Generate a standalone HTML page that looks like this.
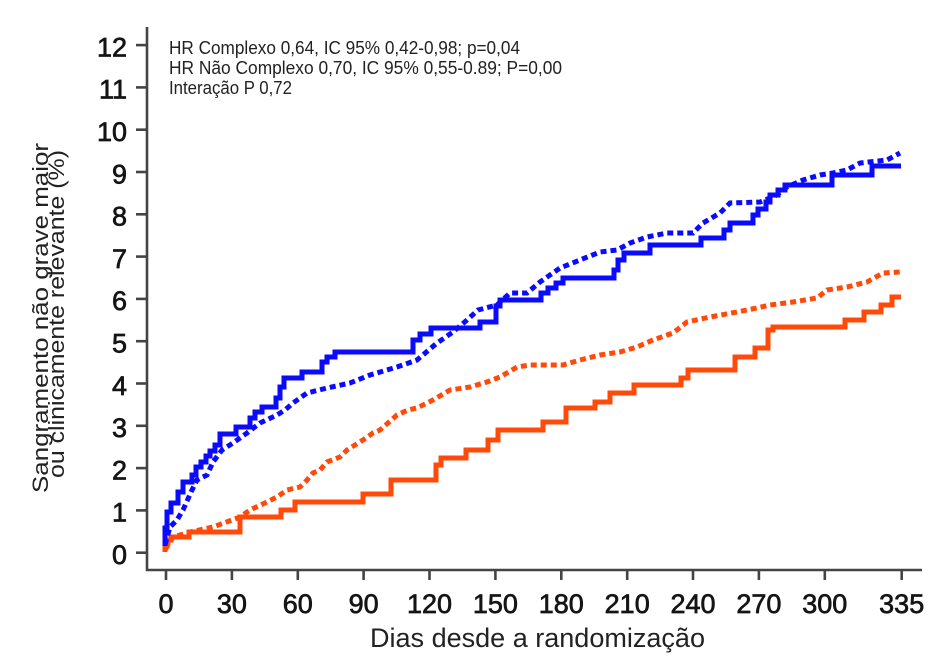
<!DOCTYPE html>
<html>
<head>
<meta charset="utf-8">
<style>
  html, body { margin: 0; padding: 0; background: #ffffff; }
  svg { display: block; }
</style>
</head>
<body>
<svg width="940" height="666" viewBox="0 0 940 666" xmlns="http://www.w3.org/2000/svg">
  <rect width="940" height="666" fill="#ffffff"/>

  <!-- Axes -->
  <g stroke="#444" stroke-width="2.6" fill="none">
    <line x1="147" y1="27" x2="147" y2="571"/>
    <line x1="146" y1="570" x2="922" y2="570"/>
    <!-- y ticks -->
    <line x1="136" y1="552.7" x2="147" y2="552.7"/>
    <line x1="136" y1="510.4" x2="147" y2="510.4"/>
    <line x1="136" y1="468.1" x2="147" y2="468.1"/>
    <line x1="136" y1="425.8" x2="147" y2="425.8"/>
    <line x1="136" y1="383.5" x2="147" y2="383.5"/>
    <line x1="136" y1="341.2" x2="147" y2="341.2"/>
    <line x1="136" y1="298.9" x2="147" y2="298.9"/>
    <line x1="136" y1="256.6" x2="147" y2="256.6"/>
    <line x1="136" y1="214.3" x2="147" y2="214.3"/>
    <line x1="136" y1="172.0" x2="147" y2="172.0"/>
    <line x1="136" y1="129.7" x2="147" y2="129.7"/>
    <line x1="136" y1="87.4" x2="147" y2="87.4"/>
    <line x1="136" y1="45.1" x2="147" y2="45.1"/>
    <!-- x ticks -->
    <line x1="166" y1="570" x2="166" y2="580"/>
    <line x1="231.9" y1="570" x2="231.9" y2="580"/>
    <line x1="297.8" y1="570" x2="297.8" y2="580"/>
    <line x1="363.6" y1="570" x2="363.6" y2="580"/>
    <line x1="429.5" y1="570" x2="429.5" y2="580"/>
    <line x1="495.4" y1="570" x2="495.4" y2="580"/>
    <line x1="561.3" y1="570" x2="561.3" y2="580"/>
    <line x1="627.2" y1="570" x2="627.2" y2="580"/>
    <line x1="693.0" y1="570" x2="693.0" y2="580"/>
    <line x1="758.9" y1="570" x2="758.9" y2="580"/>
    <line x1="824.8" y1="570" x2="824.8" y2="580"/>
    <line x1="901.7" y1="570" x2="901.7" y2="580"/>
  </g>

  <!-- Y tick labels -->
  <g font-family="'Liberation Sans', Arial, sans-serif" font-size="27" fill="#151515" stroke="#151515" stroke-width="0.7" text-anchor="end">
    <text x="127" y="564">0</text>
    <text x="127" y="521.7">1</text>
    <text x="127" y="479.4">2</text>
    <text x="127" y="437.1">3</text>
    <text x="127" y="394.8">4</text>
    <text x="127" y="352.5">5</text>
    <text x="127" y="310.2">6</text>
    <text x="127" y="267.9">7</text>
    <text x="127" y="225.6">8</text>
    <text x="127" y="183.3">9</text>
    <text x="127" y="141">10</text>
    <text x="127" y="98.7">11</text>
    <text x="127" y="56.4">12</text>
  </g>

  <!-- X tick labels -->
  <g font-family="'Liberation Sans', Arial, sans-serif" font-size="27" fill="#151515" stroke="#151515" stroke-width="0.7" text-anchor="middle">
    <text x="166" y="613">0</text>
    <text x="231.9" y="613">30</text>
    <text x="297.8" y="613">60</text>
    <text x="363.6" y="613">90</text>
    <text x="429.5" y="613">120</text>
    <text x="495.4" y="613">150</text>
    <text x="561.3" y="613">180</text>
    <text x="627.2" y="613">210</text>
    <text x="693.0" y="613">240</text>
    <text x="758.9" y="613">270</text>
    <text x="824.8" y="613">300</text>
    <text x="901.7" y="613">335</text>
  </g>

  <!-- Axis titles -->
  <text x="370" y="647" font-family="'Liberation Sans', Arial, sans-serif" font-size="27" fill="#222" textLength="335" lengthAdjust="spacingAndGlyphs">Dias desde a randomização</text>
  <g font-family="'Liberation Sans', Arial, sans-serif" font-size="22" fill="#222">
    <text transform="translate(48,493) rotate(-90)" x="0" y="0" textLength="350" lengthAdjust="spacingAndGlyphs">Sangramento não grave maior</text>
    <text transform="translate(64,478) rotate(-90)" x="0" y="0" textLength="328" lengthAdjust="spacingAndGlyphs">ou clinicamente relevante (%)</text>
  </g>

  <!-- Annotation -->
  <g font-family="'Liberation Sans', Arial, sans-serif" font-size="18" fill="#222">
    <text x="169" y="54" textLength="351" lengthAdjust="spacingAndGlyphs">HR Complexo 0,64, IC 95% 0,42-0,98; p=0,04</text>
    <text x="169" y="74" textLength="393" lengthAdjust="spacingAndGlyphs">HR Não Complexo 0,70, IC 95% 0,55-0.89; P=0,00</text>
    <text x="169" y="94" textLength="123" lengthAdjust="spacingAndGlyphs">Interação P 0,72</text>
  </g>

  <!-- Orange dotted -->
  <polyline fill="none" stroke="#ff4a0a" stroke-width="5" stroke-dasharray="6 4"
    points="165,550 173,537 190,532 213,527 240,517 250,510 267,502 277,497 287,490 300,487 307,480 313,473 320,470 327,462 340,457 347,450 363,440 373,433 380,430 397,415 408,410 417,408 433,400 450,390 470,387 487,382 500,377 517,367 530,365 563,365 580,360 600,355 620,352 637,347 653,340 673,333 687,322 710,317 737,312 757,308 770,305 793,302 817,298 827,290 847,287 867,282 883,273 900,272"/>

  <!-- Orange solid -->
  <path fill="none" stroke="#ff4a0a" stroke-width="5" stroke-linejoin="miter"
    d="M165,552 V543 H168 V540 H171 V537 H189 V532 H240 V517 H281 V510 H295 V502 H363 V494 H391 V480 H436 V465 H441 V458 H466 V450 H488 V440 H498 V430 H543 V422 H566 V408 H595 V402 H610 V393 H634 V385 H681 V378 H688 V370 H735 V357 H755 V348 H768 V330 H773 V327 H845 V320 H864 V312 H881 V305 H892 V297 H901"/>

  <!-- Blue dotted -->
  <polyline fill="none" stroke="#0a0aff" stroke-width="5" stroke-dasharray="6 4"
    points="165,545 170,527 177,520 183,510 192,490 197,480 207,475 213,462 222,450 233,443 247,433 260,423 277,415 285,410 293,403 307,393 327,388 350,383 370,375 397,367 417,360 437,343 453,332 467,320 478,310 497,305 510,293 527,293 540,282 560,268 580,260 600,252 617,250 630,243 647,237 667,233 693,233 703,223 720,213 730,203 760,202 777,195 787,187 803,180 820,175 833,173 847,170 860,163 887,160 900,153"/>

  <!-- Blue solid -->
  <path fill="none" stroke="#0a0aff" stroke-width="5" stroke-linejoin="miter"
    d="M165,546 V528 H167 V512 H171 V503 H178 V492 H183 V482 H192 V475 H196 V467 H201 V462 H206 V456 H210 V451 H215 V445 H220 V434 H236 V427 H250 V418 H255 V412 H262 V407 H276 V398 H280 V387 H284 V378 H302 V372 H322 V362 H327 V357 H335 V352 H413 V340 H420 V334 H431 V328 H480 V322 H496 V306 H500 V300 H541 V293 H548 V288 H556 V283 H563 V278 H614 V270 H618 V260 H624 V253 H650 V245 H701 V238 H724 V230 H730 V223 H753 V215 H758 V209 H766 V202 H770 V195 H778 V190 H785 V185 H832 V175 H872 V166 H901"/>
</svg>
</body>
</html>
